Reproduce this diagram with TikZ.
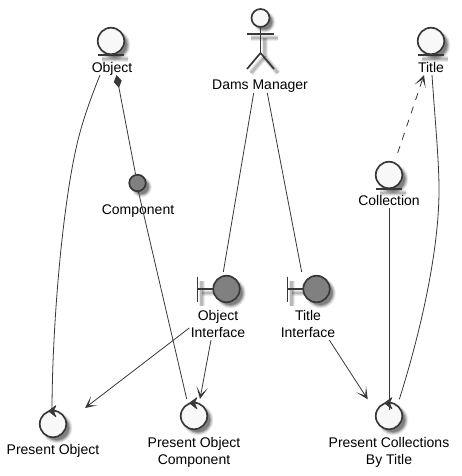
\documentclass[tikz,border=0pt]{standalone}
\usepackage{fontspec}
\setmainfont{Liberation Sans}
\usetikzlibrary{arrows.meta}
\definecolor{ln}{HTML}{383838}
\definecolor{lt}{HTML}{F8F8F8}
\definecolor{dk}{HTML}{808080}
\tikzset{
 x=1pt,y=-1pt,
 lbl/.style={font=\fontsize{14}{17}\selectfont,align=center,text=black,inner sep=0pt},
 conn/.style={draw=ln,line width=0.8pt},
 shp/.style={draw=ln,line width=1.7pt},
 ring/.style={circle,shp,fill=lt,inner sep=0pt,outer sep=0pt,minimum size=26.5pt},
 darkring/.style={circle,shp,fill=dk,inner sep=0pt,outer sep=0pt,minimum size=26.5pt},
 dot/.style={circle,shp,fill=dk,inner sep=0pt,outer sep=0pt,minimum size=16.5pt},
 tipped/.style={-{Stealth[length=12pt,width=11.5pt,inset=7.5pt,color=ln]}},
}
\newcommand{\softdisc}[3]{%
 \foreach \k/\o in {2.4/0.06,1.6/0.09,0.8/0.12,0/0.16,-0.8/0.2}{\fill[black,opacity=\o] (#1+4,#2+4) circle[radius=#3+\k];}}
\newcommand{\softline}[4]{%
 \foreach \w/\o in {6/0.08,4/0.1,2.5/0.12}{\draw[black,opacity=\o,line width=\w pt] (#1+4,#2+4) -- (#3+4,#4+4);}}
\newcommand{\entityat}[3]{% name, x, y
 \softdisc{#2}{#3}{13}
 \softline{#2-13}{#3+14}{#2+13}{#3+14}
 \draw[shp] (#2-13,#3+14) -- (#2+13,#3+14);
 \node[ring] (#1) at (#2,#3) {};}
\newcommand{\controlat}[3]{% name, x, y
 \softdisc{#2}{#3}{13}
 \node[ring] (#1) at (#2,#3) {};
 \fill[ln,draw=ln,line width=0.6pt,line join=round] (#2-4.5,#3-13) -- (#2+3,#3-18.5) -- (#2+0.5,#3-13) -- (#2+3,#3-7) -- cycle;}
\newcommand{\boundaryat}[3]{% name, x, y
 \softline{#2-29}{#3-12}{#2-29}{#3+13}
 \softline{#2-29}{#3}{#2-12}{#3}
 \softdisc{#2}{#3}{13}
 \draw[shp] (#2-29,#3-12.5) -- (#2-29,#3+13);
 \draw[shp] (#2-29,#3) -- (#2-12,#3);
 \node[darkring] (#1) at (#2,#3) {};}
\begin{document}
\begin{tikzpicture}
\useasboundingbox (0,0) rectangle (461,476);
% icons
\entityat{object}{111}{41}
\entityat{title}{431}{41}
\entityat{collection}{389}{175}
\softdisc{137.5}{183}{8}
\node[dot] (component) at (137.5,183) {};
% actor
\softdisc{260.5}{18}{8.5}
\softline{247}{34}{274}{34}
\softline{260.5}{34}{260.5}{53}
\softline{260.5}{53}{247}{69}
\softline{260.5}{53}{274}{69}
\draw[shp] (247,34) -- (274,34);
\draw[shp] (260.5,26) -- (260.5,53);
\draw[shp] (247,69) -- (260.5,53) -- (274,69);
\node[circle,shp,fill=lt,inner sep=0pt,outer sep=0pt,minimum size=18pt] (manager) at (260.5,18) {};
\boundaryat{objif}{226.5}{289}
\boundaryat{titleif}{316.5}{289}
\controlat{pobject}{53}{424}
\controlat{pcomp}{194}{416}
\controlat{pcoll}{389}{416}
% labels
\node[lbl] (lobject) at (112,68.5) {Object};
\node[lbl] (lcomponent) at (138,211.5) {Component};
\node[lbl] (lmanager) at (260,86.5) {Dams Manager};
\node[lbl] (ltitle) at (431,67) {Title};
\node[lbl] (lcollection) at (389,200) {Collection};
\node[lbl] (lobjif) at (218,323.5) {Object\\Interface};
\node[lbl] (ltitleif) at (308,323.5) {Title\\Interface};
\node[lbl] (lpobject) at (53,451) {Present Object};
\node[lbl] (lpcomp) at (194,452) {Present Object\\Component};
\node[lbl] (lpcoll) at (389,452) {Present Collections\\By Title};
% connectors
\draw[conn] ([shift={(-12,6.5)}]lobject.center) .. controls (90,100) and (83,120) .. (78,140) .. controls (62,205) and (52,330) .. ([shift={(-1,-12)}]pobject.center);
\draw[conn,{Diamond[length=13pt,width=8pt,color=ln]}-] ([shift={(4.5,6.5)}]lobject.center) -- ([shift={(-2,-9)}]component.center);
\draw[conn] ([shift={(1,9)}]component.center) -- ([shift={(-7.3,-17)}]pcomp.center);
\draw[conn] ([shift={(-6.3,6.5)}]lmanager.center) -- ([shift={(-3.2,-17)}]objif.center);
\draw[conn] ([shift={(7.3,6.5)}]lmanager.center) -- ([shift={(-14.8,-17)}]titleif.center);
\draw[conn,dashed,dash pattern=on 7pt off 7pt,tipped] ([shift={(8.7,-22)}]collection.center) -- ([shift={(-7,8)}]ltitle.center);
\draw[conn] ([shift={(1,8)}]ltitle.center) .. controls (435,120) and (439,160) .. (439,190) .. controls (439,260) and (415,350) .. ([shift={(10.3,-16.7)}]pcoll.center);
\draw[conn] ([shift={(0,8)}]lcollection.center) -- ([shift={(0,-6)}]pcoll.center);
\draw[conn,tipped] ([shift={(-28.7,4.5)}]lobjif.center) -- ([shift={(32,-16)}]pobject.center);
\draw[conn,tipped] ([shift={(-7,16.5)}]lobjif.center) -- ([shift={(6,-17)}]pcomp.center);
\draw[conn,tipped] ([shift={(21.3,16.5)}]ltitleif.center) -- ([shift={(-21.3,-16.7)}]pcoll.center);
\end{tikzpicture}
\end{document}
